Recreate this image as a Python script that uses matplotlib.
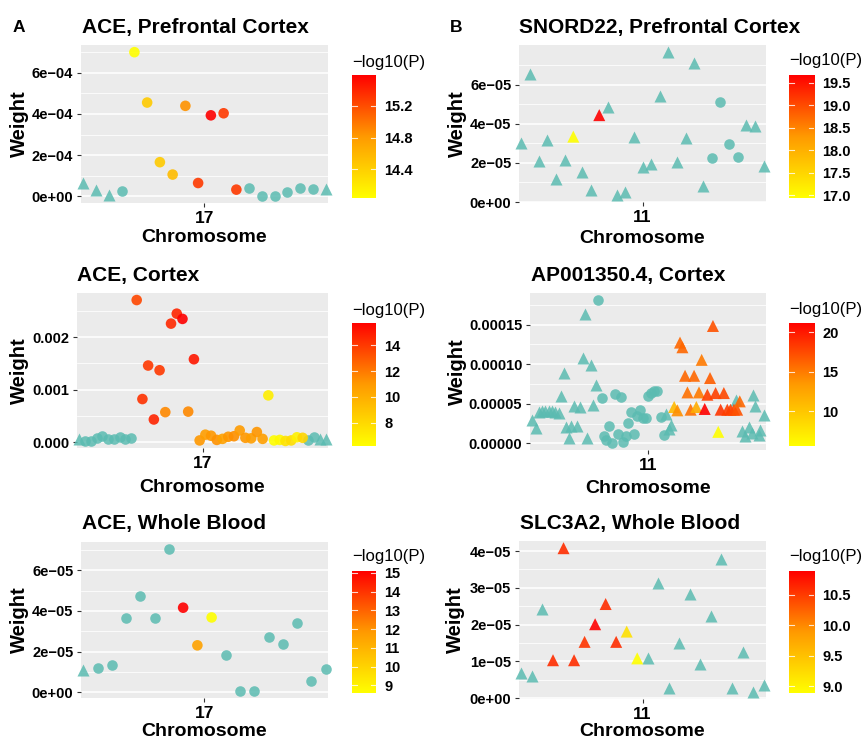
import numpy as np
import matplotlib.pyplot as plt
from matplotlib.colors import LinearSegmentedColormap

plt.rcParams["font.family"] = ["Liberation Sans", "DejaVu Sans"]

nan = np.nan

# ---- A: ACE ----
# prefrontal cortex (evenly spaced SNPs)
ace_pfc_w = np.array([0.65, 0.29, 0.05, 0.24, 6.99, 4.55, 1.66, 1.06, 4.39, 0.65,
                      3.93, 4.03, 0.33, 0.39, 0.03, 0.03, 0.20, 0.41, 0.34, 0.37]) * 1e-4
ace_pfc_kind = "TTTCCCCCCCCCCCCCCCCT"
ace_pfc_logp = [nan, nan, nan, nan, 14.04, 14.45, 14.45, 14.55, 14.85, 15.3,
                15.59, 15.3, 15.3, nan, nan, nan, nan, nan, nan, nan]

# cortex
ace_ctx_w = np.array([0.05, 0.02, 0.02, 0.08, 0.11, 0.05, 0.05, 0.09, 0.06, 0.08,
                      2.71, 0.82, 1.46, 0.43, 1.37, 0.57, 2.26, 2.45, 2.35, 0.58, 1.58,
                      0.03, 0.14, 0.12, 0.04, 0.06, 0.10, 0.11, 0.22, 0.08, 0.07, 0.19, 0.06,
                      0.89, 0.03, 0.04, 0.02, 0.03, 0.09, 0.08,
                      0.03, 0.10, 0.06, 0.05]) * 1e-3
ace_ctx_kind = "T" + "C" * 41 + "TT"
ace_ctx_logp = [nan] * 10 + [13.5, 14.2, 14.0, 14.6, 14.0, 11.5, 14.5, 14.6, 15.73, 11.5, 15.0,
                             11.0, 10.8, 11.0, 11.2, 10.6, 11.0, 11.3, 10.9, 11.0, 10.8, 11.1, 10.7,
                             7.0, 6.19, 6.5, 7.5, 7.8, 6.8, 8.2] + [nan] * 4

# whole blood
ace_wb_w = np.array([1.11, 1.22, 1.32, 3.63, 4.71, 3.67, 7.04, 4.16, 2.31, 3.68,
                     1.83, 0.07, 0.07, 2.71, 2.40, 3.41, 0.57, 1.17]) * 1e-5
ace_wb_kind = "T" + "C" * 17
ace_wb_logp = [nan] * 7 + [15.1, 11.6, 8.6] + [nan] * 8

# ---- B ----
snord_w = np.array([3.03, 6.56, 2.12, 3.17, 1.17, 2.15, 3.34, 1.51, 0.59, 4.44,
                    4.86, 0.37, 0.49, 3.31, 1.78, 1.93, 5.42, 7.66, 2.03, 3.25,
                    7.10, 0.80, 2.27, 5.12, 2.95, 2.32, 3.92, 3.88, 1.85]) * 1e-5
snord_kind = "T" * 22 + "CCCC" + "TTT"
snord_logp = [nan] * 6 + [16.94, nan, nan, 19.67] + [nan] * 19

ap_pos = [0, 1.25, 2.4, 3.6, 4.9, 6.1, 7.4, 8.6, 9.9, 10.75, 11.75, 12.6, 13.9, 14.5,
          15.75, 17, 17.9, 18.9, 19.9, 20.75, 22, 23, 23.9,
          24.9, 26.1, 26.9, 27.9, 28.9, 30.1, 31.1, 32.1, 33.25, 34.1, 35.1, 36.1, 37,
          38.25, 39.5, 40.5, 41.6, 42.9, 43.4, 44.5, 45.9, 47.1, 48.4, 49.6,
          50.5, 51.5, 52.1,
          53.4, 54.6, 55.6, 56.5, 57.5, 58.4, 59.6, 60.9, 61.75, 62.75, 63.75, 64.9,
          65.9, 66.9, 68, 69, 70, 70.9, 72.1, 73.4, 74.6, 75.9, 77.1, 78.1,
          76.5, 79, 80.25, 81.5, 82.75, 83.1, 84, 85.25, 85.9, 87.1]
ap_w = np.array([3.0, 2.0, 3.95, 4.05, 4.05, 4.05, 4.05, 3.95, 3.85, 5.95, 8.9, 2.1, 0.7, 2.2,
                 4.7, 2.2, 4.6, 10.77, 16.34, 0.7, 9.93, 4.9, 7.42,
                 18.1, 5.7, 0.92, 0.42, 2.18, 0.08, 6.29, 1.26, 5.87, 0.17, 0.92, 2.6, 3.94,
                 1.26, 3.52, 4.19, 3.23, 3.23, 6.03, 6.37, 6.58, 6.58, 3.31, 1.05,
                 3.77, 1.84, 2.39,
                 4.61, 4.19, 12.74, 12.15, 8.55, 6.45, 4.27, 8.55, 4.61, 6.45, 10.56, 4.36,
                 6.16, 8.26, 14.84, 6.37, 1.47, 4.27, 6.37, 4.27, 4.27, 4.27, 4.27, 5.32,
                 5.53, 1.55, 0.92, 2.1, 1.34, 6.08, 4.69, 1.13, 1.76, 3.65]) * 1e-5
ap_kind = "T" * 23 + "C" * 24 + "T" * 3 + "T" * 24 + "T" * 10
ap_logp = [nan] * 50 + [11, 14, 16, 16, 16, 15.5, 15.5, 16, 12, 15, 15, 21.2,
                        18, 16.5, 17, 18, 5.6, 18.5, 17.5, 18, 18, 17.5, 17, 16] + [nan] * 10

slc_w = np.array([0.67, 0.60, 2.42, 1.03, 4.08, 1.03, 1.53, 2.01, 2.56, 1.53,
                  1.81, 1.08, 1.08, 3.13, 0.27, 1.51, 2.82, 0.92, 2.24, 3.79,
                  0.27, 1.25, 0.17, 0.36]) * 1e-5
slc_kind = "T" * 24
slc_logp = [nan, nan, nan, 10.6, 10.6, 10.6, 10.55, 10.89, 10.6, 10.6, 9.2, 8.89] + [nan] * 12

W, H = 865, 742
fig = plt.figure(figsize=(W / 100, H / 100), dpi=100)
fig.set_facecolor("white")

cmap = LinearSegmentedColormap.from_list("p", ["#FFFF00", "#FF9A00", "#FF0000"])
TEAL = "#5BBBB1"


def rect(x0, y0, x1, y1):
    return [x0 / W, 1 - y1 / H, (x1 - x0) / W, (y1 - y0) / H]


def panel(box, cbox, pos, weight, kind, logp, title, tick, yticks, ylabels, minor, cticks, clabels,
          tpos, cbt, wx, chy):
    ax = fig.add_axes(rect(*box))
    ax.set_facecolor("#EBEBEB")
    pos = np.asarray(pos, float)
    logp = np.asarray(logp, float)
    kind = np.array(list(kind))
    lo, hi = np.nanmin(logp), np.nanmax(logp)
    grey = np.isnan(logp)
    for k, m, s in (("C", "o", 58), ("T", "^", 75)):
        sel = grey & (kind == k)
        ax.scatter(pos[sel], weight[sel], marker=m, s=s, color=TEAL, alpha=0.85, lw=0,
                   clip_on=False, zorder=2)
    for k, m, s in (("C", "o", 58), ("T", "^", 75)):
        sel = ~grey & (kind == k)
        ax.scatter(pos[sel], weight[sel], c=logp[sel], cmap=cmap, vmin=lo, vmax=hi, marker=m,
                   s=s, alpha=0.9, lw=0, clip_on=False, zorder=3)
    span = pos.max() - pos.min()
    ax.set_xlim(pos.min() - 0.01 * span, pos.max() + 0.01 * span)
    r = weight.max() - weight.min()
    ax.set_ylim(weight.min() - 0.05 * r, weight.max() + 0.05 * r)
    ax.set_yticks(yticks)
    ax.set_yticklabels(ylabels, fontweight="bold", fontsize=10.5)
    ax.set_yticks(minor, minor=True)
    ax.set_xticks([(pos.min() + pos.max()) / 2])
    ax.set_xticklabels([tick], fontweight="bold", fontsize=12.5)
    ax.grid(which="major", axis="y", color="white", lw=1.1)
    ax.grid(which="minor", axis="y", color="white", lw=0.55)
    ax.set_axisbelow(True)
    ax.tick_params(which="major", length=3, color="#333333", width=0.8, pad=2.5, labelcolor="black")
    ax.tick_params(which="minor", length=0)
    for sp in ax.spines.values():
        sp.set_visible(False)

    fig.text(tpos[0] / W, 1 - tpos[1] / H, title, fontsize=15, fontweight="bold", va="baseline")
    fig.text(wx / W, 1 - (box[1] + box[3]) / 2 / H, "Weight", fontsize=14.5, fontweight="bold",
             rotation=90, ha="center", va="center")
    fig.text((box[0] + box[2]) / 2 / W, 1 - chy / H, "Chromosome", fontsize=14,
             fontweight="bold", ha="center", va="center")

    cax = fig.add_axes(rect(*cbox))
    grad = np.linspace(lo, hi, 256).reshape(-1, 1)
    cax.imshow(grad, aspect="auto", cmap=cmap, origin="lower", extent=[0, 1, lo, hi],
               vmin=lo, vmax=hi)
    cax.set_xticks([])
    cax.yaxis.tick_right()
    cax.set_yticks(cticks)
    cax.set_yticklabels(clabels, fontweight="bold", fontsize=10.5)
    cax.tick_params(length=0, pad=6)
    for c in cticks:
        cax.plot([0, 0.2], [c, c], color="white", lw=0.8, alpha=0.8)
        cax.plot([0.8, 1], [c, c], color="white", lw=0.8, alpha=0.8)
    cax.set_xlim(0, 1)
    cax.set_ylim(lo, hi)
    for sp in cax.spines.values():
        sp.set_visible(False)
    fig.text(cbox[0] / W, 1 - cbt / H, "\u2212log10(P)", fontsize=12, va="center")


e4 = ["0e+00", "2e\u221204", "4e\u221204", "6e\u221204"]
e5 = ["0e+00", "2e\u221205", "4e\u221205", "6e\u221205"]

panel((81, 45, 328, 203), (352, 75, 376, 198), np.arange(len(ace_pfc_w)), ace_pfc_w, ace_pfc_kind,
      ace_pfc_logp, "ACE, Prefrontal Cortex", "17", [0, 2e-4, 4e-4, 6e-4], e4,
      [1e-4, 3e-4, 5e-4, 7e-4], [14.4, 14.8, 15.2], ["14.4", "14.8", "15.2"],
      (81.7, 33.3), 62, 19.5, 237.5)
panel((77, 293, 328, 448), (352, 323, 376, 446), np.arange(len(ace_ctx_w)), ace_ctx_w, ace_ctx_kind,
      ace_ctx_logp, "ACE, Cortex", "17", [0, 0.001, 0.002], ["0.000", "0.001", "0.002"],
      [0.0005, 0.0015, 0.0025], [8, 10, 12, 14], ["8", "10", "12", "14"],
      (77.3, 281), 310.7, 19.5, 487.5)
panel((81, 542, 328, 698), (352, 571, 376, 693), np.arange(len(ace_wb_w)), ace_wb_w, ace_wb_kind,
      ace_wb_logp, "ACE, Whole Blood", "17", [0, 2e-5, 4e-5, 6e-5], e5,
      [1e-5, 3e-5, 5e-5, 7e-5], list(range(9, 16)), [str(v) for v in range(9, 16)],
      (81.7, 529.3), 556.7, 19.5, 731.5)
panel((519, 45, 766, 202), (789, 75, 814, 198), np.arange(len(snord_w)), snord_w, snord_kind,
      snord_logp, "SNORD22, Prefrontal Cortex", "11", [0, 2e-5, 4e-5, 6e-5], e5,
      [1e-5, 3e-5, 5e-5, 7e-5], [17, 17.5, 18, 18.5, 19, 19.5],
      ["17.0", "17.5", "18.0", "18.5", "19.0", "19.5"], (519.3, 33.3), 60.7, 457.5, 238.5)
panel((530, 293, 766, 450), (789, 323, 814, 446), ap_pos, ap_w, ap_kind, ap_logp,
      "AP001350.4, Cortex", "11", [0, 5e-5, 1e-4, 1.5e-4],
      ["0.00000", "0.00005", "0.00010", "0.00015"], [2.5e-5, 7.5e-5, 1.25e-4, 1.75e-4],
      [10, 15, 20], ["10", "15", "20"], (531, 281), 309.3, 457.5, 488.5)
panel((519, 541, 766, 699), (789, 571, 814, 693), np.arange(len(slc_w)), slc_w, slc_kind,
      slc_logp, "SLC3A2, Whole Blood", "11", [0, 1e-5, 2e-5, 3e-5, 4e-5],
      ["0e+00", "1e\u221205", "2e\u221205", "3e\u221205", "4e\u221205"],
      [0.5e-5, 1.5e-5, 2.5e-5, 3.5e-5], [9.0, 9.5, 10.0, 10.5], ["9.0", "9.5", "10.0", "10.5"],
      (520, 529.3), 556, 455, 732)

fig.text(13 / W, 1 - 31.7 / H, "A", fontsize=12.5, fontweight="bold", va="baseline")
fig.text(450 / W, 1 - 31.7 / H, "B", fontsize=12.5, fontweight="bold", va="baseline")

fig.savefig("out.png", dpi=100)
